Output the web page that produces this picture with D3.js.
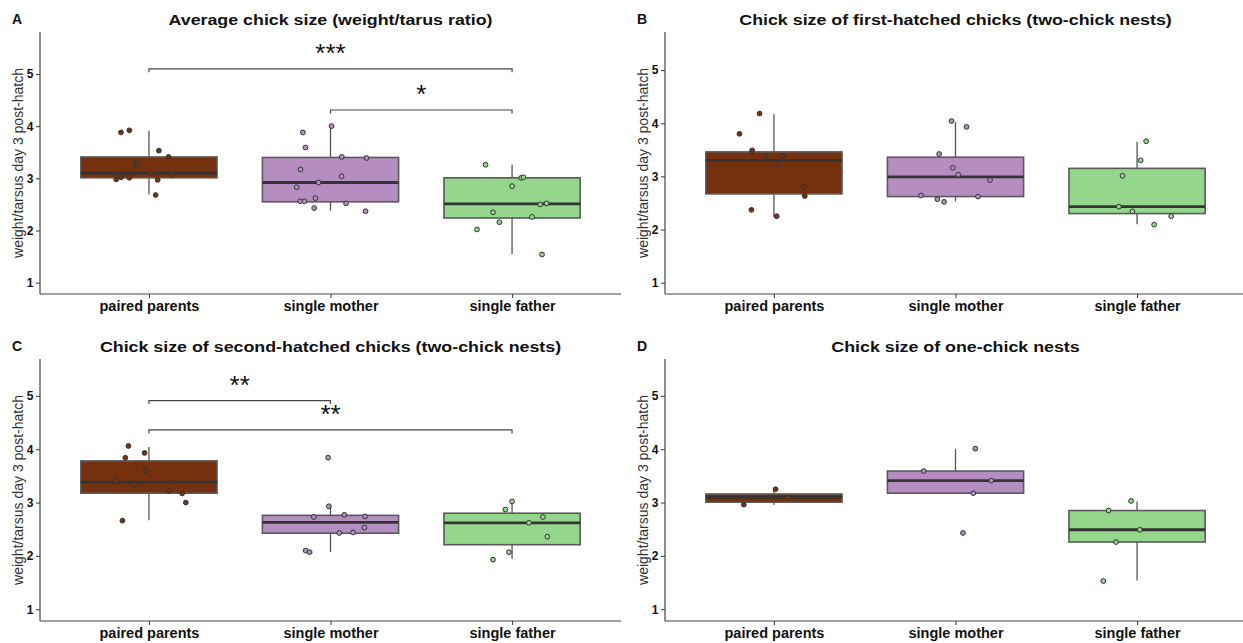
<!DOCTYPE html>
<html>
<head>
<meta charset="utf-8">
<script src="https://cdn.jsdelivr.net/npm/d3@7/dist/d3.min.js"></script>
<style>
body { margin: 0; background: #fff; }
text { font-family: "Liberation Sans", Arial, sans-serif; }
</style>
</head>
<body>
<div id="fig"></div>
<script>
var categories = ['paired parents', 'single mother', 'single father'];
var fills = ['#75300e', '#b48ec1', '#94d68b'];

// panel A - average chick size
var avgValues = [
    [3.88, 3.92, 3.53, 3.41, 3.30, 3.25, 3.10, 3.06, 3.02, 3.01, 2.98, 2.97, 2.68],
    [4.00, 3.88, 3.59, 3.41, 3.39, 3.17, 3.04, 2.92, 2.83, 2.56, 2.56, 2.62, 2.52, 2.43, 2.37],
    [3.26, 3.01, 3.02, 2.85, 2.50, 2.52, 2.35, 2.26, 2.16, 2.02, 1.54]
];
var avgJitter = [
    [-0.154, -0.108, 0.055, 0.108, -0.073, -0.068, 0.013, 0.125, -0.154, -0.108, -0.18, 0.048, 0.037],
    [0.006, -0.152, -0.138, 0.062, 0.198, -0.165, 0.061, -0.066, -0.186, -0.167, -0.143, -0.083, 0.086, -0.09, 0.193],
    [-0.146, 0.05, 0.063, 0, 0.155, 0.19, -0.105, 0.11, -0.07, -0.193, 0.165]
];
// lower whisker, q1, median, q3, upper whisker
var avgBox = [
    [2.69, 3.01, 3.10, 3.41, 3.91],
    [2.38, 2.55, 2.92, 3.40, 4.00],
    [1.55, 2.24, 2.51, 3.01, 3.26]
];
var avgSig = [
    { from: 0, to: 2, y: 5.10, label: '***' },
    { from: 1, to: 2, y: 4.31, label: '*' }
];

// panel B - first hatched
var firstValues = [
    [4.18, 3.80, 3.49, 3.38, 3.38, 3.23, 2.80, 2.63, 2.37, 2.25],
    [4.04, 3.93, 3.42, 3.16, 3.03, 2.93, 2.64, 2.62, 2.57, 2.52],
    [3.66, 3.30, 3.01, 2.43, 2.34, 2.25, 2.09]
];
var firstJitter = [
    [-0.079, -0.19, -0.12, -0.044, 0.046, 0.022, 0.164, 0.17, -0.124, 0.015],
    [-0.022, 0.061, -0.09, -0.015, 0.015, 0.19, -0.19, 0.124, -0.10, -0.063],
    [0.05, 0.02, -0.08, -0.1, -0.026, 0.188, 0.094]
];
var firstBox = [
    [2.24, 2.67, 3.30, 3.46, 4.17],
    [2.53, 2.62, 2.99, 3.36, 4.02],
    [2.10, 2.30, 2.43, 3.15, 3.65]
];

// panel C - second hatched
var secondValues = [
    [4.06, 3.84, 3.93, 3.60, 3.41, 3.34, 3.22, 3.17, 3.00, 2.66],
    [3.84, 2.93, 2.73, 2.77, 2.74, 2.53, 2.44, 2.43, 2.10, 2.07],
    [3.02, 2.87, 2.73, 2.62, 2.36, 2.07, 1.93]
];
var secondJitter = [
    [-0.113, -0.13, -0.024, -0.017, -0.18, -0.078, 0.107, 0.183, 0.203, -0.146],
    [-0.013, -0.009, -0.092, 0.076, 0.19, 0.187, 0.124, 0.048, -0.137, -0.115],
    [0, -0.037, 0.17, 0.093, 0.194, -0.017, -0.105]
];
var secondBox = [
    [2.67, 3.175, 3.38, 3.78, 4.04],
    [2.07, 2.425, 2.63, 2.76, 2.93],
    [1.94, 2.21, 2.62, 2.80, 3.00]
];
var secondSig = [
    { from: 0, to: 1, y: 4.91, label: '**' },
    { from: 0, to: 2, y: 4.36, label: '**' }
];

// panel D - one chick nests
var oneValues = [
    [2.96, 3.25, 3.09],
    [3.59, 4.01, 3.41, 3.175, 2.43],
    [3.03, 2.85, 2.49, 2.26, 1.53]
];
var oneJitter = [
    [-0.166, 0.009, 0.076],
    [-0.175, 0.109, 0.197, 0.098, 0.041],
    [-0.033, -0.157, 0.015, -0.116, -0.186]
];
var oneBox = [
    [2.96, 3.006, 3.10, 3.16, 3.25],
    [3.175, 3.175, 3.41, 3.59, 4.00],
    [1.54, 2.26, 2.49, 2.85, 3.02]
];

var yTicks = [1, 2, 3, 4, 5];
var yTitle = 'weight/tarsus day 3 post-hatch';

var panels = [
    { letter: 'A', title: 'Average chick size (weight/tarus ratio)', values: avgValues, jitter: avgJitter, box: avgBox, sig: avgSig, x: 40, y: 32, yDomain: [0.783, 5.805] },
    { letter: 'B', title: 'Chick size of first-hatched chicks (two-chick nests)', values: firstValues, jitter: firstJitter, box: firstBox, sig: [], x: 665, y: 32, yDomain: [0.787, 5.715] },
    { letter: 'C', title: 'Chick size of second-hatched chicks (two-chick nests)', values: secondValues, jitter: secondJitter, box: secondBox, sig: secondSig, x: 40, y: 359, yDomain: [0.78, 5.69] },
    { letter: 'D', title: 'Chick size of one-chick nests', values: oneValues, jitter: oneJitter, box: oneBox, sig: [], x: 665, y: 359, yDomain: [0.78, 5.69] }
];

var width = 581;
var height = 262;

var svg = d3.select('#fig')
    .append('svg')
        .attr('width', 1243)
        .attr('height', 643);

panels.forEach(drawPanel);

function drawPanel(p) {

    var g = svg.append('g')
        .attr('transform', 'translate(' + p.x + ',' + p.y + ')');

    var x = d3.scalePoint()
        .domain(categories)
        .range([0, width])
        .padding(0.6);

    var y = d3.scaleLinear()
        .domain(p.yDomain)
        .range([height, 0]);

    var boxW = x.step() * 0.75;
    var jitterScale = x.step();

    // letter + title
    g.append('text')
        .attr('x', -28)
        .attr('y', -8)
        .attr('font-size', 14)
        .attr('font-weight', 'bold')
        .attr('fill', '#111')
        .text(p.letter);

    g.append('text')
        .attr('transform', 'translate(' + (width / 2) + ',-7) scale(1.15,1)')
        .attr('text-anchor', 'middle')
        .attr('font-size', 15.5)
        .attr('font-weight', 'bold')
        .attr('fill', '#111')
        .text(p.title);

    // y title
    g.append('text')
        .attr('transform', 'translate(-17,' + (height / 2) + ') rotate(-90)')
        .attr('text-anchor', 'middle')
        .attr('font-size', 14)
        .attr('fill', '#333')
        .text(yTitle);

    var groups = g.selectAll('.grp')
        .data(categories)
        .enter()
        .append('g')
            .attr('class', 'grp');

    // whiskers
    groups.append('line')
        .attr('x1', d => x(d))
        .attr('x2', d => x(d))
        .attr('y1', (d, i) => y(p.box[i][0]))
        .attr('y2', (d, i) => y(p.box[i][4]))
        .attr('stroke', '#555')
        .attr('stroke-width', 1.3);

    groups.append('rect')
        .attr('x', d => x(d) - boxW / 2)
        .attr('width', boxW)
        .attr('y', (d, i) => y(p.box[i][3]))
        .attr('height', (d, i) => y(p.box[i][1]) - y(p.box[i][3]))
        .attr('fill', (d, i) => fills[i])
        .attr('stroke', '#5a5a5a')
        .attr('stroke-width', 1.6);

    groups.append('line')
        .attr('x1', d => x(d) - boxW / 2)
        .attr('x2', d => x(d) + boxW / 2)
        .attr('y1', (d, i) => y(p.box[i][2]))
        .attr('y2', (d, i) => y(p.box[i][2]))
        .attr('stroke', '#333')
        .attr('stroke-width', 2.8);

    // jittered points
    groups.each(function(d, i) {
        var pts = p.values[i].map((v, k) => ({ v: v, j: p.jitter[i][k] }));
        d3.select(this).selectAll('circle')
            .data(pts)
            .enter()
            .append('circle')
                .attr('cx', e => x(d) + e.j * jitterScale)
                .attr('cy', e => y(e.v))
                .attr('r', 2.4)
                .attr('fill', fills[i])
                .attr('stroke', '#333')
                .attr('stroke-width', 1);
    });

    // significance brackets
    var sig = g.selectAll('.sig')
        .data(p.sig)
        .enter()
        .append('g')
            .attr('class', 'sig');

    sig.append('path')
        .attr('d', d => {
            var x1 = x(categories[d.from]), x2 = x(categories[d.to]);
            var yy = y(d.y), yt = y(d.y - 0.065);
            return 'M' + x1 + ',' + yt + 'V' + yy + 'H' + x2 + 'V' + yt;
        })
        .attr('fill', 'none')
        .attr('stroke', '#444')
        .attr('stroke-width', 1.2);

    sig.append('text')
        .attr('x', d => (x(categories[d.from]) + x(categories[d.to])) / 2)
        .attr('y', d => y(d.y) - 7)
        .attr('text-anchor', 'middle')
        .attr('font-size', 26)
        .attr('fill', '#111')
        .text(d => d.label);

    // axes
    var xAxis = g.append('g')
        .attr('transform', 'translate(0,' + height + ')')
        .call(d3.axisBottom(x).tickSize(4).tickPadding(3));

    var yAxis = g.append('g')
        .call(d3.axisLeft(y).tickValues(yTicks).tickFormat(d3.format('d')).tickSize(4).tickPadding(2.5));

    [xAxis, yAxis].forEach(a => {
        a.select('.domain').attr('stroke', '#444').attr('stroke-width', 1.2);
        a.selectAll('.tick line').attr('stroke', '#444').attr('stroke-width', 1.1);
        a.selectAll('.tick text')
            .attr('fill', '#111')
            .attr('font-weight', 'bold')
            .style('font-family', '"Liberation Sans", Arial, sans-serif');
    });
    xAxis.selectAll('.tick text').attr('font-size', 14.5);
    yAxis.selectAll('.tick text').attr('font-size', 12);
    // axis lines span the full panel
    yAxis.select('.domain').attr('d', 'M0,' + height + 'V0');
    xAxis.select('.domain').attr('d', 'M0,0H' + width);
}
</script>
</body>
</html>
